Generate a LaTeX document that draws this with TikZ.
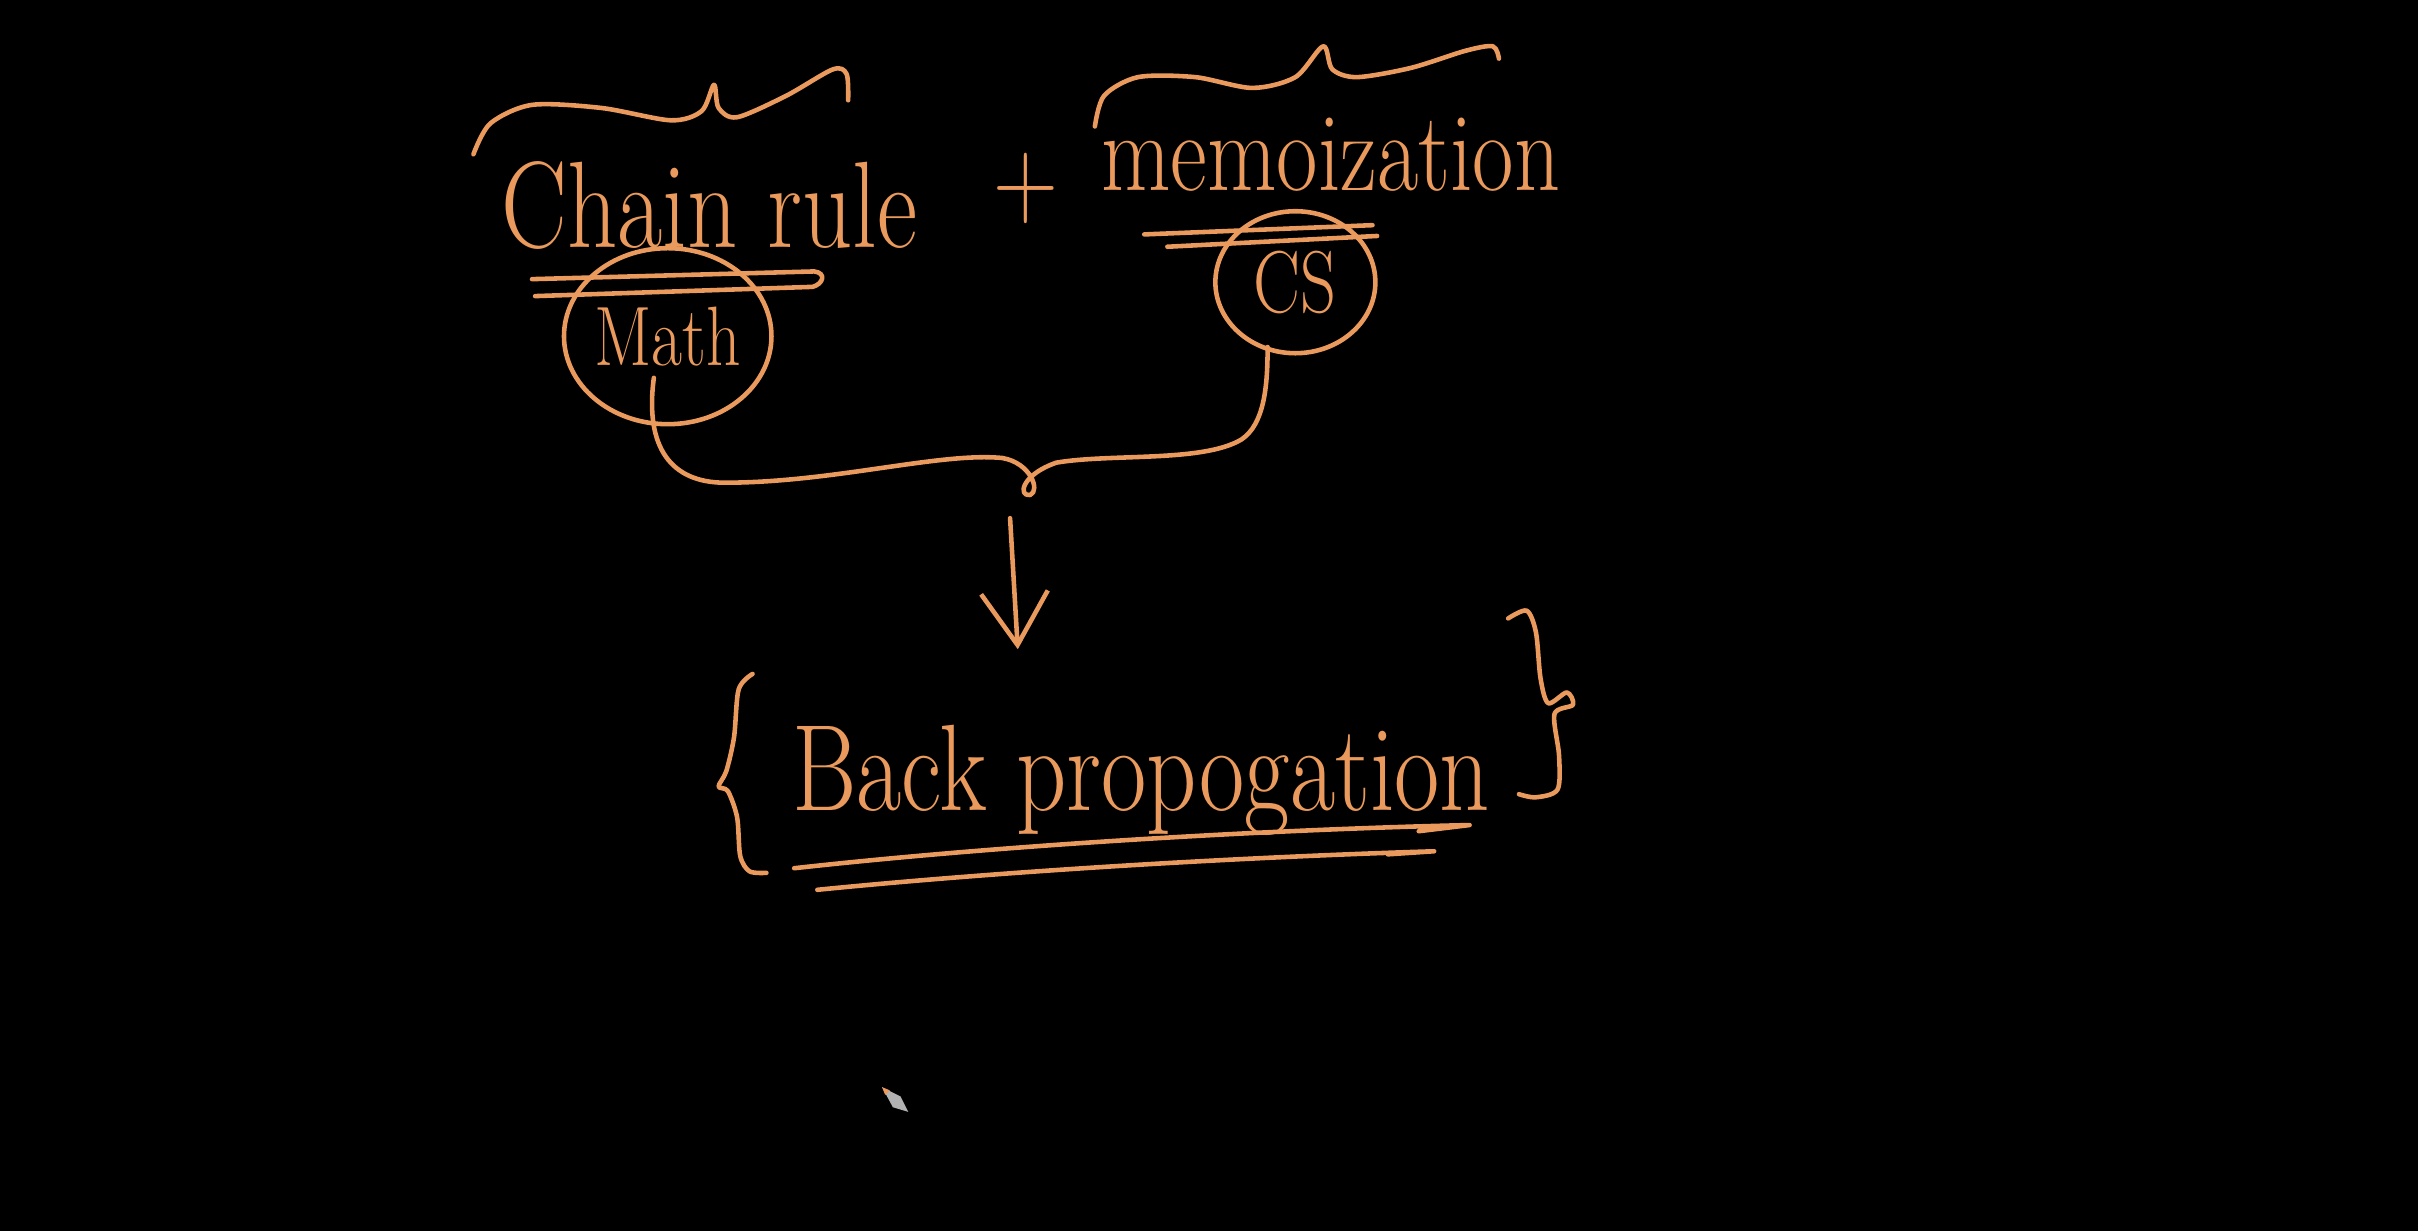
\documentclass[tikz,border=0pt]{standalone}
\usepackage{graphicx}
\usetikzlibrary{shapes.geometric,arrows.meta,calc}
\definecolor{chalk}{HTML}{E99A5C}
\newcommand{\hand}[2]{\scalebox{0.8}[1]{\fontsize{#1}{#1}\selectfont #2}}
\begin{document}
\begin{tikzpicture}[x=0.1542mm, y=-0.1542mm,
    pen/.style={chalk, line width=1.3pt, line cap=round, line join=round},
    word/.style={chalk, inner sep=0pt, outer sep=0pt},
    ring/.style={pen, draw, ellipse, inner sep=0pt, outer sep=0pt},
    arr/.style={pen, -{Straight Barb[length=15pt, width=19pt]}}]
    \fill[black] (0,0) rectangle (1568,798);
    \useasboundingbox (0,0) rectangle (1568,798);

    % top line
    \node[word] (chain) at (460,133) {\hand{35}{Chain rule}};
    \node[word] (plus) at (665,122) {\hand{32}{+}};
    \node[word] (memo) at (863,100) {\hand{32}{memoization}};

    % braces over the two words
    \draw[pen] plot[smooth] coordinates {(307,100) (318,80) (345,68) (390,70) (435,78) (455,72) (463,55) (466,70) (478,76) (510,62) (540,45) (549,48) (550,65)};
    \draw[pen] plot[smooth] coordinates {(710,82) (716,62) (738,50) (775,50) (812,57) (840,50) (858,30) (864,45) (880,50) (915,44) (950,33) (968,30) (972,38)};

    % underlines
    \draw[pen] (345,181) -- (528,176) .. controls (536,177) and (534,184) .. (527,186) -- (347,192);
    \draw[pen] (742,152) -- (890,146);
    \draw[pen] (757,160) -- (893,153);

    \node[ring, minimum width=20mm, minimum height=17.6mm] (math) at (433,218) {\hand{24}{Math}};
    \node[ring, minimum width=16mm, minimum height=14.2mm] (cs) at (840,183) {\hand{25}{CS}};

    % joining brace
    \coordinate (joint) at (668,321);
    \draw[pen] ($(math.center)+(-9,27)$) .. controls (418,290) and (435,313) .. (470,313)
        .. controls (540,313) and (610,293) .. (650,297)
        .. controls (668,300) and (675,318) .. (joint)
        .. controls (660,322) and (662,308) .. (685,300)
        .. controls (720,294) and (780,300) .. (805,285)
        .. controls (820,275) and (822,250) .. ($(cs.center)+(-18,42)$);

    \node[word] (bp) at (740,506) {\hand{35}{Back propogation}};
    \draw[arr] ($(joint)+(-13,15)$) -- ($(joint)+(-8,100)$);

    % braces round the result
    \draw[pen] plot[smooth] coordinates {(488,437) (479,447) (476,478) (471,500) (466,510) (472,513) (478,530) (480,555) (486,565) (497,566)};
    \draw[pen] plot[smooth] coordinates {(978,401) (990,396) (996,410) (999,440) (1004,456) (1016,449) (1020,457) (1008,463) (1011,490) (1010,512) (996,517) (985,515)};

    \draw[pen] (515,563) .. controls (650,548) and (820,538) .. (953,535) -- (920,539);
    \draw[pen] (530,577) .. controls (650,565) and (800,556) .. (930,552) -- (900,554);

    % cursor
    \fill[gray!60] (572,705) -- (584,711) -- (589,721) -- (579,718) -- cycle;
    \fill[chalk] (572,705) -- (577,707) -- (574,710) -- cycle;
\end{tikzpicture}
\end{document}
